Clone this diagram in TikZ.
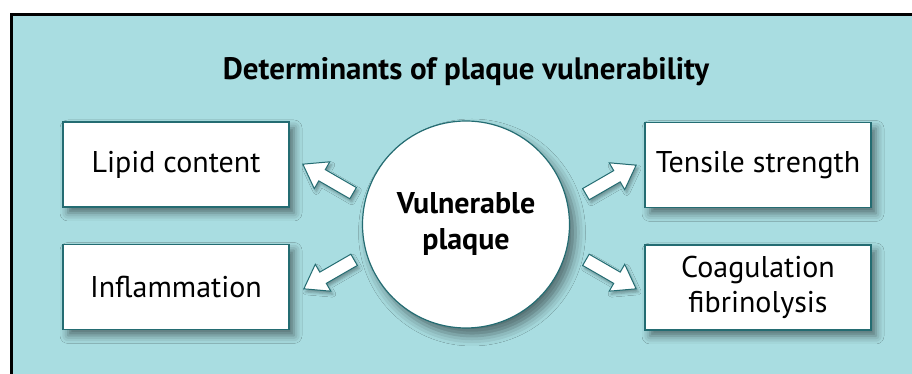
\documentclass[tikz,border=0pt]{standalone}
\usepackage{fontspec}
\setmainfont{PT Sans}
\usetikzlibrary{shapes.arrows, shadows.blur}
\definecolor{panelteal}{RGB}{169,221,225}
\definecolor{darkteal}{RGB}{36,108,114}

\begin{document}
\begin{tikzpicture}[x=1pt, y=1pt,
  factor/.style={draw=darkteal, line width=1.2pt, fill=white, minimum width=226pt, minimum height=85pt,
    align=center, font=\fontsize{30}{35}\selectfont,
    blur shadow={shadow xshift=5pt, shadow yshift=-6pt, shadow blur radius=8pt, shadow opacity=50}},
  outarrow/.style={single arrow, draw=darkteal, line width=1pt, fill=white, inner xsep=0pt, inner ysep=6pt,
    minimum height=58pt, single arrow head extend=9pt, single arrow tip angle=70,
    blur shadow={shadow xshift=2pt, shadow yshift=-3pt, shadow blur radius=3pt, shadow opacity=35}}]
\useasboundingbox (0,0) rectangle (912,374);
% panel
\fill[panelteal] (11,-10) rectangle (930,358);
\draw[line width=3pt] (11,-10) -- (11,359) -- (930,359);
% title
\node[font=\bfseries\fontsize{31}{31}\selectfont] (title) at (466,302) {Determinants of plaque vulnerability};
% centre
\node[circle, draw=darkteal, line width=1.2pt, fill=white, minimum size=207pt, align=center,
  font=\bfseries\fontsize{30}{36}\selectfont,
  blur shadow={shadow xshift=6pt, shadow yshift=-8pt, shadow blur radius=10pt, shadow opacity=50}]
  (plaque) at (466,149.5) {Vulnerable\\plaque};
% determinants
\node[factor] (lipid) at (176,209.5) {Lipid content};
\node[factor] (inflam) at (176,87) {Inflammation};
\node[factor] (tensile) at (758,209) {Tensile strength};
\node[factor] (coag) at (758,86.5) {Coagulation\\fibrinolysis};
% arrows
\node[outarrow, rotate=150] (toLipid) at (332,193) {};
\node[outarrow, rotate=210] (toInflam) at (333,102) {};
\node[outarrow, rotate=30] (toTensile) at (607,192) {};
\node[outarrow, rotate=-30] (toCoag) at (607,102) {};
\end{tikzpicture}
\end{document}
